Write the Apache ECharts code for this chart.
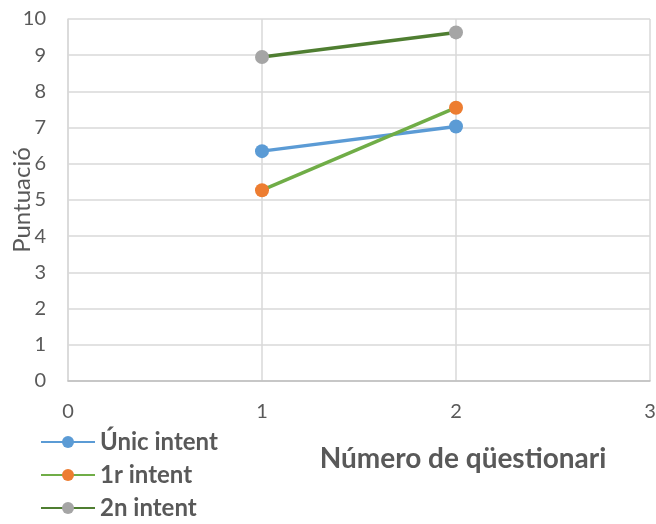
<!DOCTYPE html>
<html><head><meta charset="utf-8">
<script src="https://cdn.jsdelivr.net/npm/echarts@6/dist/echarts.min.js"></script>
<style>html,body{margin:0;padding:0;background:#fff}#c{width:656px;height:524px}</style>
</head><body><div id="c"></div>
<script>
const xTicks = [0, 1, 2, 3];
const seriesNames = ["Únic intent", "1r intent", "2n intent"];
const xValues = [1, 2];
const unicIntent = [6.35, 7.03];
const primerIntent = [5.27, 7.55];
const segonIntent = [8.95, 9.63];
const lineColors = ["#5B9BD5", "#70AD47", "#4F7E31"];
const markerColors = ["#5B9BD5", "#ED7D31", "#A5A5A5"];
const allValues = [unicIntent, primerIntent, segonIntent];

const font = "Lato, 'Open Sans', sans-serif";
const chart = echarts.init(document.getElementById('c'));
chart.setOption({
  animation: false,
  grid: {left: 68, right: 6, top: 19, bottom: 143, containLabel: false, outerBoundsMode: 'none'},
  xAxis: {
    type: 'value', min: 0, max: 3, interval: 1,
    name: 'Número de qüestionari', nameLocation: 'middle', nameGap: 64, nameMoveOverlap: false,
    nameTextStyle: {fontFamily: font, fontSize: 28, fontWeight: 'bold', color: '#595959', padding: [0, 0, 0, 208]},
    axisLine: {show: true, lineStyle: {color: '#BFBFBF', width: 1.5}},
    axisTick: {show: false},
    axisLabel: {fontFamily: font, fontSize: 20, color: '#595959', margin: 21, formatter: v => xTicks.includes(v) ? String(v) : ''},
    splitLine: {show: true, lineStyle: {color: '#D9D9D9', width: 1.5}}
  },
  yAxis: {
    type: 'value', min: 0, max: 10, interval: 1,
    name: 'Puntuació', nameLocation: 'middle', nameGap: 34, nameRotate: 90, nameMoveOverlap: false,
    nameTextStyle: {fontFamily: font, fontSize: 24, color: '#595959'},
    axisLine: {show: true, lineStyle: {color: '#D9D9D9', width: 1.5}},
    axisTick: {show: false},
    axisLabel: {fontFamily: font, fontSize: 20, color: '#595959', margin: 22},
    splitLine: {show: true, lineStyle: {color: '#D9D9D9', width: 1.5}}
  },
  legend: {
    orient: 'vertical', left: 35, top: 425, height: 96, itemWidth: 54, itemHeight: 15, itemGap: 9,
    textStyle: {fontFamily: font, fontSize: 24, lineHeight: 24, fontWeight: 'bold', color: '#595959'},
    data: seriesNames
  },
  series: seriesNames.map((n, i) => ({
    name: n, type: 'line', symbol: 'circle', symbolSize: 14,
    data: xValues.map((x, j) => [x, allValues[i][j]]),
    lineStyle: {color: lineColors[i], width: 3.5},
    itemStyle: {color: markerColors[i], borderWidth: 0},
    emphasis: {disabled: true}
  }))
});
</script></body></html>
